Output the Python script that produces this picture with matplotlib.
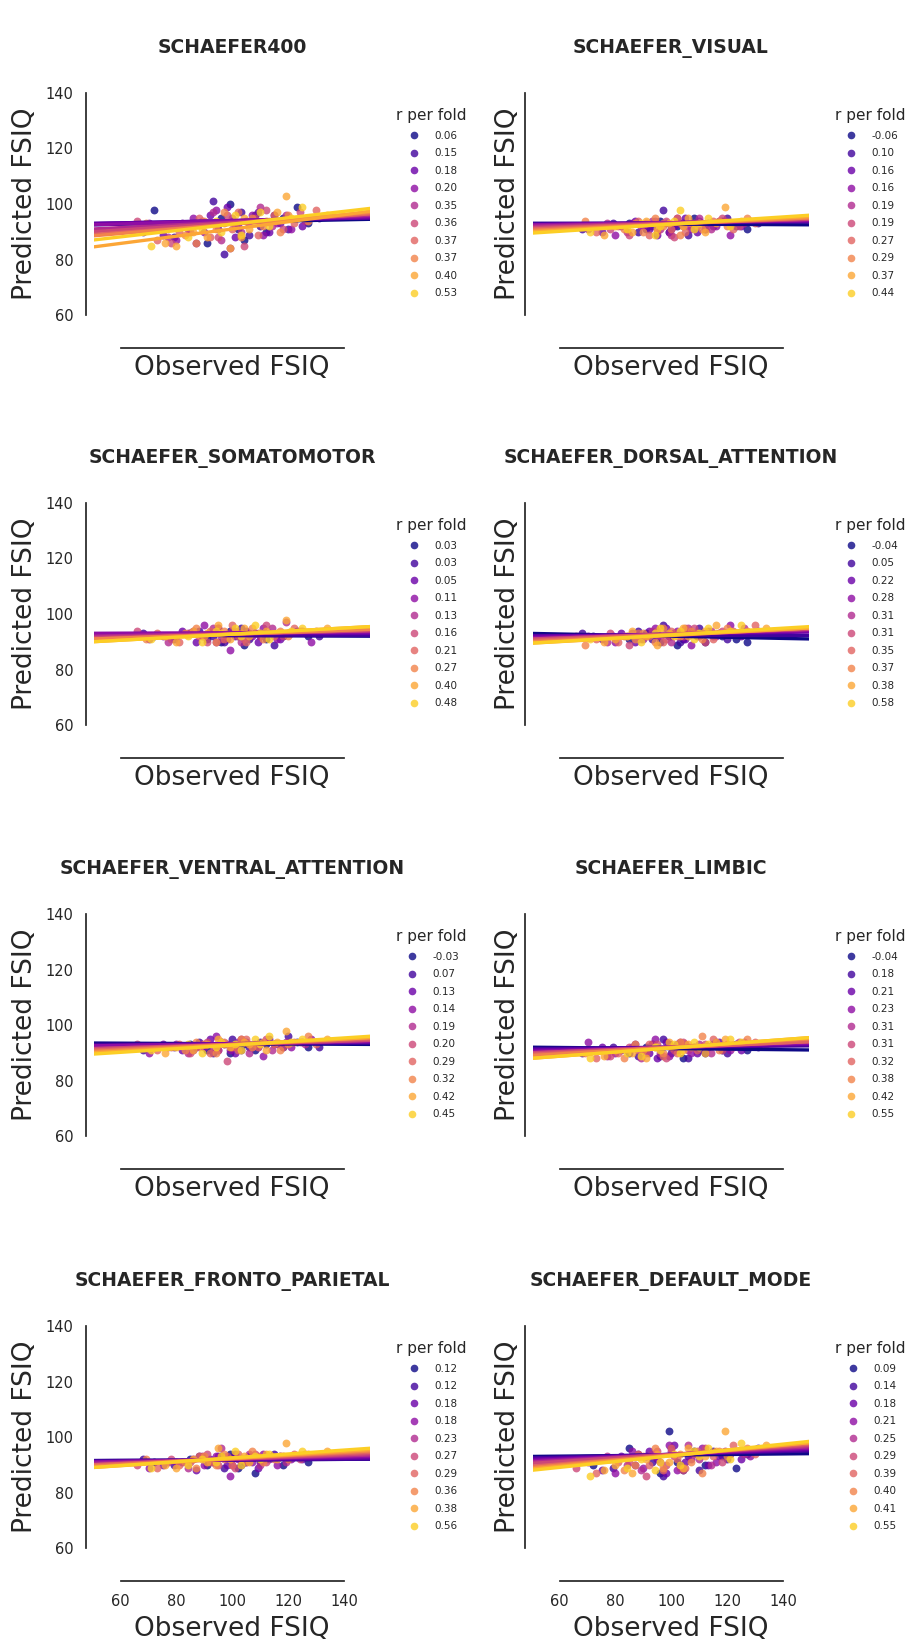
import numpy as np
import matplotlib
matplotlib.use("Agg")
import matplotlib.pyplot as plt
from matplotlib.lines import Line2D

# redes / paneles
titles = ["SCHAEFER400", "SCHAEFER_VISUAL", "SCHAEFER_SOMATOMOTOR", "SCHAEFER_DORSAL_ATTENTION",
          "SCHAEFER_VENTRAL_ATTENTION", "SCHAEFER_LIMBIC", "SCHAEFER_FRONTO_PARIETAL", "SCHAEFER_DEFAULT_MODE"]

# FSIQ observado (10 folds x 12 sujetos), igual en todos los paneles
observed = [
    [72, 85, 91, 96, 99, 102, 104, 108, 112, 118, 123, 127],
    [68, 79, 88, 93, 97, 100, 103, 106, 110, 115, 120, 131],
    [75, 82, 87, 92, 95, 98, 101, 105, 109, 113, 117, 125],
    [70, 80, 86, 90, 94, 99, 102, 107, 111, 116, 121, 128],
    [77, 84, 89, 93, 96, 100, 103, 106, 110, 114, 119, 126],
    [66, 78, 85, 91, 95, 98, 101, 104, 108, 112, 118, 124],
    [73, 81, 88, 92, 97, 100, 102, 105, 109, 115, 122, 130],
    [69, 83, 87, 90, 94, 97, 103, 107, 111, 117, 120, 127],
    [76, 80, 86, 91, 95, 99, 104, 106, 112, 116, 119, 134],
    [71, 84, 89, 94, 96, 101, 103, 108, 110, 113, 121, 125],
]

# FSIQ predicho por panel
pred_s400 = [
    [98, 92, 86, 95, 100, 91, 87, 96, 90, 95, 99, 93],
    [90, 88, 93, 101, 82, 94, 97, 89, 92, 96, 91, 95],
    [89, 93, 86, 96, 91, 99, 88, 94, 97, 90, 93, 92],
    [93, 87, 95, 90, 98, 84, 92, 96, 89, 93, 91, 95],
    [88, 91, 94, 97, 87, 95, 90, 93, 99, 92, 96, 94],
    [94, 86, 90, 93, 88, 96, 92, 85, 95, 98, 91, 97],
    [87, 90, 95, 88, 93, 91, 97, 94, 89, 96, 93, 98],
    [93, 89, 86, 94, 91, 97, 88, 95, 92, 90, 96, 94],
    [86, 85, 90, 88, 93, 84, 95, 91, 94, 97, 103, 96],
    [85, 88, 91, 94, 90, 96, 89, 93, 97, 92, 95, 99],
]
pred_visual = [
    [92, 93, 91, 94, 90, 92, 93, 95, 91, 94, 92, 91],
    [91, 93, 90, 92, 98, 91, 93, 89, 94, 92, 95, 93],
    [90, 92, 94, 91, 89, 93, 92, 95, 90, 93, 94, 92],
    [91, 89, 93, 92, 94, 90, 95, 91, 93, 92, 89, 94],
    [93, 90, 92, 94, 91, 89, 93, 92, 95, 91, 94, 93],
    [92, 91, 89, 93, 90, 94, 88, 92, 93, 91, 95, 92],
    [90, 92, 94, 89, 93, 91, 95, 90, 92, 94, 91, 93],
    [94, 91, 93, 90, 95, 92, 89, 93, 91, 94, 92, 95],
    [89, 92, 90, 94, 91, 93, 92, 95, 90, 93, 99, 94],
    [90, 91, 93, 89, 92, 94, 98, 91, 93, 95, 92, 94],
]
pred_somato = [
    [92, 93, 91, 90, 94, 92, 89, 93, 91, 92, 94, 92],
    [93, 91, 94, 92, 90, 93, 95, 91, 92, 89, 93, 92],
    [92, 94, 90, 93, 95, 91, 92, 94, 90, 93, 91, 94],
    [91, 92, 94, 96, 90, 87, 93, 92, 95, 91, 93, 90],
    [90, 93, 92, 95, 91, 94, 90, 93, 92, 95, 97, 93],
    [94, 91, 93, 90, 95, 92, 94, 91, 93, 96, 92, 94],
    [93, 90, 92, 94, 91, 96, 92, 90, 93, 92, 95, 94],
    [91, 93, 95, 92, 90, 94, 93, 95, 91, 94, 92, 93],
    [92, 90, 94, 93, 96, 91, 95, 92, 94, 93, 98, 95],
    [91, 92, 90, 94, 93, 95, 92, 96, 93, 91, 94, 95],
]
pred_dorsal = [
    [92, 91, 93, 90, 92, 89, 91, 93, 90, 92, 91, 90],
    [93, 92, 94, 91, 96, 92, 90, 93, 95, 92, 91, 94],
    [91, 93, 90, 94, 92, 95, 93, 91, 92, 94, 93, 92],
    [92, 90, 93, 91, 95, 92, 94, 89, 93, 92, 96, 93],
    [90, 92, 91, 94, 92, 90, 93, 95, 92, 94, 93, 95],
    [92, 93, 89, 92, 94, 91, 93, 92, 95, 90, 94, 93],
    [91, 90, 93, 92, 90, 94, 92, 95, 93, 91, 94, 96],
    [89, 92, 91, 93, 90, 95, 92, 94, 91, 93, 95, 94],
    [90, 91, 94, 92, 89, 93, 95, 92, 94, 96, 93, 95],
    [91, 92, 90, 93, 95, 92, 94, 91, 93, 95, 94, 96],
]
pred_ventral = [
    [92, 93, 91, 94, 90, 92, 93, 91, 93, 92, 94, 92],
    [91, 92, 94, 90, 93, 95, 91, 92, 94, 93, 96, 92],
    [93, 91, 92, 95, 91, 93, 90, 94, 92, 95, 93, 94],
    [90, 93, 91, 92, 96, 91, 94, 92, 89, 93, 92, 95],
    [92, 90, 93, 91, 94, 92, 95, 90, 93, 91, 94, 93],
    [93, 92, 90, 94, 91, 87, 92, 94, 93, 95, 92, 94],
    [91, 93, 92, 90, 94, 92, 91, 95, 92, 93, 94, 93],
    [92, 91, 94, 93, 90, 93, 95, 92, 94, 91, 93, 96],
    [90, 92, 91, 93, 95, 92, 94, 93, 91, 94, 98, 95],
    [91, 93, 90, 92, 94, 93, 91, 95, 93, 96, 94, 95],
]
pred_limbic = [
    [91, 90, 92, 89, 93, 91, 88, 92, 90, 91, 93, 91],
    [90, 92, 89, 93, 95, 90, 92, 88, 91, 93, 90, 92],
    [92, 91, 93, 90, 88, 94, 91, 93, 90, 92, 94, 91],
    [94, 90, 92, 91, 95, 89, 93, 90, 92, 94, 91, 93],
    [89, 91, 88, 93, 90, 92, 94, 91, 93, 90, 92, 94],
    [91, 89, 92, 90, 93, 88, 91, 94, 92, 93, 91, 94],
    [88, 90, 91, 93, 89, 92, 90, 93, 91, 95, 92, 94],
    [90, 88, 93, 91, 92, 90, 94, 92, 96, 91, 93, 95],
    [89, 91, 90, 88, 92, 94, 91, 93, 90, 94, 95, 93],
    [88, 90, 89, 92, 91, 93, 90, 94, 92, 93, 95, 94],
]
pred_fronto = [
    [91, 92, 90, 93, 94, 89, 91, 87, 92, 90, 93, 91],
    [92, 90, 93, 91, 89, 92, 90, 93, 91, 94, 92, 93],
    [90, 91, 88, 92, 93, 90, 94, 91, 89, 92, 93, 92],
    [89, 91, 92, 90, 93, 86, 92, 91, 94, 90, 92, 93],
    [91, 89, 93, 91, 96, 90, 92, 94, 90, 93, 91, 94],
    [90, 92, 91, 94, 90, 93, 89, 92, 94, 91, 93, 92],
    [89, 90, 93, 91, 92, 90, 94, 91, 93, 92, 94, 93],
    [92, 91, 89, 93, 90, 94, 92, 95, 91, 93, 92, 94],
    [90, 89, 92, 91, 96, 92, 93, 91, 94, 92, 98, 95],
    [89, 90, 92, 91, 93, 95, 90, 93, 92, 94, 93, 95],
]
pred_default = [
    [90, 96, 93, 87, 102, 91, 88, 95, 90, 93, 89, 94],
    [92, 89, 94, 91, 86, 96, 90, 93, 88, 95, 92, 96],
    [88, 93, 90, 95, 92, 87, 97, 91, 94, 90, 93, 92],
    [91, 87, 95, 89, 93, 97, 88, 92, 96, 91, 94, 93],
    [93, 90, 88, 94, 91, 95, 89, 97, 92, 90, 95, 94],
    [89, 92, 91, 86, 95, 90, 93, 88, 94, 96, 91, 95],
    [87, 91, 94, 90, 88, 96, 92, 89, 95, 93, 97, 94],
    [92, 88, 90, 93, 96, 89, 94, 91, 87, 95, 93, 96],
    [88, 90, 87, 92, 94, 91, 89, 96, 93, 95, 102, 97],
    [86, 89, 92, 88, 91, 94, 90, 95, 93, 96, 92, 98],
]
predicted = [pred_s400, pred_visual, pred_somato, pred_dorsal,
             pred_ventral, pred_limbic, pred_fronto, pred_default]

# recta de regresion por fold: valor en FSIQ=100 y pendiente
fit_mid = [
    [93.5, 94, 94, 94, 93.5, 93.25, 92.75, 92.75, 91, 92.75],
    [92.75, 93.25, 93.25, 93.25, 93.25, 93, 93, 92.75, 92.75, 92.75],
    [92.25, 92.5, 93, 93.25, 93, 92.75, 92.75, 92.75, 92.75, 92.75],
    [92, 92.5, 92.75, 92.75, 92.75, 92.75, 92.75, 92.5, 92.25, 92.5],
    [93.25, 93.25, 93.25, 93.25, 93, 93, 93, 93, 92.75, 92.75],
    [91.5, 92, 92, 92, 92, 92, 91.75, 92, 91.75, 91.75],
    [91.75, 91.75, 91.75, 92, 92, 92, 92.25, 92.25, 92.25, 92.5],
    [93.5, 93.75, 93.75, 93.75, 93.75, 93.75, 93.5, 93.5, 93.25, 93.25],
]
fit_slope = [
    [0.02, 0.02, 0.02, 0.03, 0.05, 0.065, 0.075, 0.085, 0.13, 0.115],
    [-0.005, 0.005, 0.015, 0.015, 0.025, 0.03, 0.04, 0.045, 0.055, 0.065],
    [-0.005, 0.0, 0.0, 0.005, 0.02, 0.025, 0.035, 0.035, 0.055, 0.055],
    [-0.02, 0.0, 0.015, 0.025, 0.035, 0.035, 0.045, 0.05, 0.055, 0.06],
    [-0.005, 0.005, 0.015, 0.015, 0.03, 0.03, 0.04, 0.05, 0.055, 0.065],
    [-0.01, 0.01, 0.02, 0.03, 0.04, 0.04, 0.045, 0.06, 0.075, 0.075],
    [0.005, 0.005, 0.015, 0.02, 0.03, 0.04, 0.045, 0.055, 0.065, 0.07],
    [0.01, 0.025, 0.035, 0.045, 0.055, 0.065, 0.08, 0.09, 0.095, 0.105],
]

# r por fold (leyenda)
r_fold = [
    ["0.06", "0.15", "0.18", "0.20", "0.35", "0.36", "0.37", "0.37", "0.40", "0.53"],
    ["-0.06", "0.10", "0.16", "0.16", "0.19", "0.19", "0.27", "0.29", "0.37", "0.44"],
    ["0.03", "0.03", "0.05", "0.11", "0.13", "0.16", "0.21", "0.27", "0.40", "0.48"],
    ["-0.04", "0.05", "0.22", "0.28", "0.31", "0.31", "0.35", "0.37", "0.38", "0.58"],
    ["-0.03", "0.07", "0.13", "0.14", "0.19", "0.20", "0.29", "0.32", "0.42", "0.45"],
    ["-0.04", "0.18", "0.21", "0.23", "0.31", "0.31", "0.32", "0.38", "0.42", "0.55"],
    ["0.12", "0.12", "0.18", "0.18", "0.23", "0.27", "0.29", "0.36", "0.38", "0.56"],
    ["0.09", "0.14", "0.18", "0.21", "0.25", "0.29", "0.39", "0.40", "0.41", "0.55"],
]

x_ticks = [60, 80, 100, 120, 140]
y_ticks = [60, 80, 100, 120, 140]

colores = plt.cm.plasma(np.linspace(0, 0.9, 10))
gris = "#262626"

W, H = 913, 1642
fig = plt.figure(figsize=(W / 100, H / 100), dpi=100)

col_left = [94, 533]
row_top = [93, 503, 914, 1326]
ax_w, ax_h = 276, 222

for k in range(8):
    fila, col = k // 2, k % 2
    ax = fig.add_axes([col_left[col] / W, 1 - (row_top[fila] + ax_h) / H, ax_w / W, ax_h / H])
    ax.set_xlim(50.5, 149.2)
    ax.set_ylim(60, 140)

    xs = np.array(ax.get_xlim())
    for f in range(10):
        ax.scatter(observed[f], predicted[k][f], s=32, color=colores[f], alpha=0.8,
                   linewidths=0, zorder=2)
        ax.plot(xs, fit_mid[k][f] + fit_slope[k][f] * (xs - 100), color=colores[f],
                lw=2.4, zorder=3)

    # estilo despine con offset y trim
    for s in ["top", "right"]:
        ax.spines[s].set_visible(False)
    ax.spines["left"].set_position(("outward", 6))
    ax.spines["bottom"].set_position(("outward", 24))
    ax.spines["left"].set_bounds(60, 140)
    ax.spines["bottom"].set_bounds(60, 140)
    for s in ["left", "bottom"]:
        ax.spines[s].set_color(gris)
        ax.spines[s].set_linewidth(1.25)

    ax.set_xticks(x_ticks)
    ax.set_yticks(y_ticks)
    ax.tick_params(length=0, labelsize=10.5, colors=gris, pad=9)
    if fila < 3:
        ax.tick_params(labelbottom=False)
    if col == 1:
        ax.tick_params(labelleft=False)

    ax.set_xlabel("Observed FSIQ", fontsize=19, color=gris, labelpad=5)
    ax.set_ylabel("Predicted FSIQ", fontsize=19, color=gris, labelpad=5 if col == 0 else 3)
    ax.set_title(titles[k], fontsize=13.5, fontweight="bold", color=gris, pad=29)

    handles = [Line2D([], [], ls="", marker="o", markersize=5.5, color=colores[f],
                      alpha=0.8, markeredgewidth=0) for f in range(10)]
    leg = ax.legend(handles, r_fold[k], title="r per fold", loc="upper left",
                    bbox_to_anchor=(1.08, 0.95), borderaxespad=0, frameon=False,
                    fontsize=7.5, title_fontsize=11, handlelength=1.5,
                    handletextpad=1.2, labelspacing=0.72)
    leg.get_title().set_color(gris)
    for t in leg.get_texts():
        t.set_color(gris)

fig.savefig("out.png", dpi=100, facecolor="white")
